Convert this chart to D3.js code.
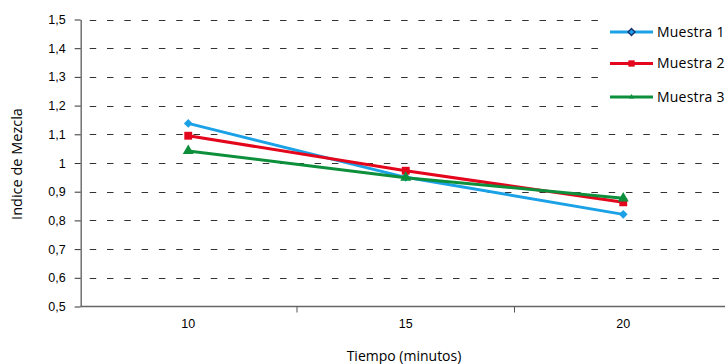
<!DOCTYPE html>
<html>
<head>
<meta charset="utf-8">
<script src="https://cdn.jsdelivr.net/npm/d3@7"></script>
<style>
  html, body { margin: 0; padding: 0; background: #fff; overflow: hidden; }
  svg { display: block; font-family: "Open Sans", "Noto Sans", sans-serif; }
</style>
</head>
<body>
<svg id="chart" width="725" height="364"></svg>
<script>
// Tiempo de mezcla (minutos) y el índice medido para cada muestra
const categories = ["10", "15", "20"];
const muestra1 = [1.138, 0.95, 0.821];
const muestra2 = [1.095, 0.973, 0.863];
const muestra3 = [1.042, 0.949, 0.877];
const seriesNames = ["Muestra 1", "Muestra 2", "Muestra 3"];
const yTicks = [0.5, 0.6, 0.7, 0.8, 0.9, 1.0, 1.1, 1.2, 1.3, 1.4, 1.5];

const series = [
  { name: seriesNames[0], values: muestra1, color: "#1ba1e6", shape: "diamond" },
  { name: seriesNames[1], values: muestra2, color: "#e3061c", shape: "square" },
  { name: seriesNames[2], values: muestra3, color: "#0d8f3c", shape: "triangle" }
];

const svg = d3.select("#chart");
const W = 725;
const axisX = 80.7, axisY = 306.5, topY = 19.5;

const x = d3.scaleBand().domain(categories).range([79.5, 79.5 + 3 * 217.5]);
const y = d3.scaleLinear().domain([0.5, 1.5]).range([axisY, topY]);
const fmt = v => d3.format(".1~f")(v).replace(".", ",");

// marker path for a shape at a given size
function marker(shape, size) {
  if (shape === "triangle") return d3.symbol(d3.symbolTriangle, size)();
  return d3.symbol(d3.symbolSquare, size)();
}
const rot = shape => shape === "diamond" ? " rotate(45)" : "";

// horizontal dashed grid
svg.append("g").selectAll("line")
  .data(yTicks.filter(v => v > 0.5))
  .join("line")
  .attr("x1", axisX).attr("x2", W)
  .attr("y1", d => Math.round(y(d)) + 0.5).attr("y2", d => Math.round(y(d)) + 0.5)
  .attr("stroke", "#333").attr("stroke-width", 1.1)
  .attr("stroke-dasharray", "6.5,10.8").attr("stroke-dashoffset", 8.3);

// y axis
const yAxis = svg.append("g").attr("transform", `translate(${axisX},0)`)
  .call(d3.axisLeft(y).tickValues(yTicks).tickFormat(fmt).tickSize(6).tickSizeOuter(0).tickPadding(9));
yAxis.select(".domain").attr("stroke", "#666").attr("stroke-width", 1.4);
yAxis.selectAll(".tick line").attr("stroke", "#333").attr("stroke-width", 1);
yAxis.selectAll("text").attr("font-size", 12.5).attr("fill", "#000").attr("font-family", null);

// x axis: labels centred on categories, ticks on category boundaries
const xAxis = svg.append("g").attr("transform", `translate(0,${axisY})`)
  .call(d3.axisBottom(x).tickSize(0).tickSizeOuter(0).tickPadding(12.5));
xAxis.select(".domain").attr("d", `M${axisX},0H${W}`).attr("stroke", "#666").attr("stroke-width", 1.4);
xAxis.selectAll("text").attr("font-size", 12.5).attr("fill", "#000").attr("font-family", null);
xAxis.selectAll("line.bound")
  .data(categories.slice(1))
  .join("line").attr("class", "bound")
  .attr("x1", d => x(d)).attr("x2", d => x(d))
  .attr("y1", 0).attr("y2", 6)
  .attr("stroke", "#555").attr("stroke-width", 1);

// axis titles
svg.append("text")
  .attr("x", 404).attr("y", 361)
  .attr("text-anchor", "middle").attr("font-size", 14).attr("fill", "#000")
  .text("Tiempo (minutos)");
svg.append("text")
  .attr("transform", "translate(21.5,164) rotate(-90)")
  .attr("text-anchor", "middle").attr("font-size", 14.5).attr("fill", "#000")
  .text("Indice de Mezcla");

// series lines and markers
const cx = (d, i) => x(categories[i]) + x.bandwidth() / 2;
const line = d3.line().x(cx).y(d => y(d));
series.forEach(s => {
  const g = svg.append("g");
  g.append("path").datum(s.values)
    .attr("d", line).attr("fill", "none")
    .attr("stroke", s.color).attr("stroke-width", 3).attr("stroke-linejoin", "round");
  g.selectAll("path.pt").data(s.values).join("path").attr("class", "pt")
    .attr("transform", (d, i) => `translate(${cx(d, i)},${y(d)})${rot(s.shape)}`)
    .attr("d", marker(s.shape, s.shape === "square" ? 62 : s.shape === "diamond" ? 38 : 52))
    .attr("fill", s.color);
});

// legend
const legend = svg.append("g");
legend.append("rect").attr("x", 605).attr("y", 12).attr("width", 130).attr("height", 105).attr("fill", "#fff");
const rows = legend.selectAll("g.row").data(series).join("g").attr("class", "row")
  .attr("transform", (d, i) => `translate(0,${[32, 63.5, 97][i]})`);
rows.append("line").attr("x1", 610).attr("x2", 653)
  .attr("stroke", d => d.color).attr("stroke-width", 3);
rows.append("path")
  .attr("transform", d => `translate(631.5,0)${rot(d.shape)}`)
  .attr("d", d => marker(d.shape, d.shape === "square" ? 40 : d.shape === "triangle" ? 12 : 24))
  .attr("fill", d => d.color)
  .attr("stroke", d => d.shape === "diamond" ? "#1c2a6b" : "none")
  .attr("stroke-width", 1.3);
rows.append("text").attr("x", 657).attr("dy", "0.35em")
  .attr("font-size", 14).attr("fill", "#000").attr("letter-spacing", 0.2)
  .text(d => d.name);
</script>
</body>
</html>
